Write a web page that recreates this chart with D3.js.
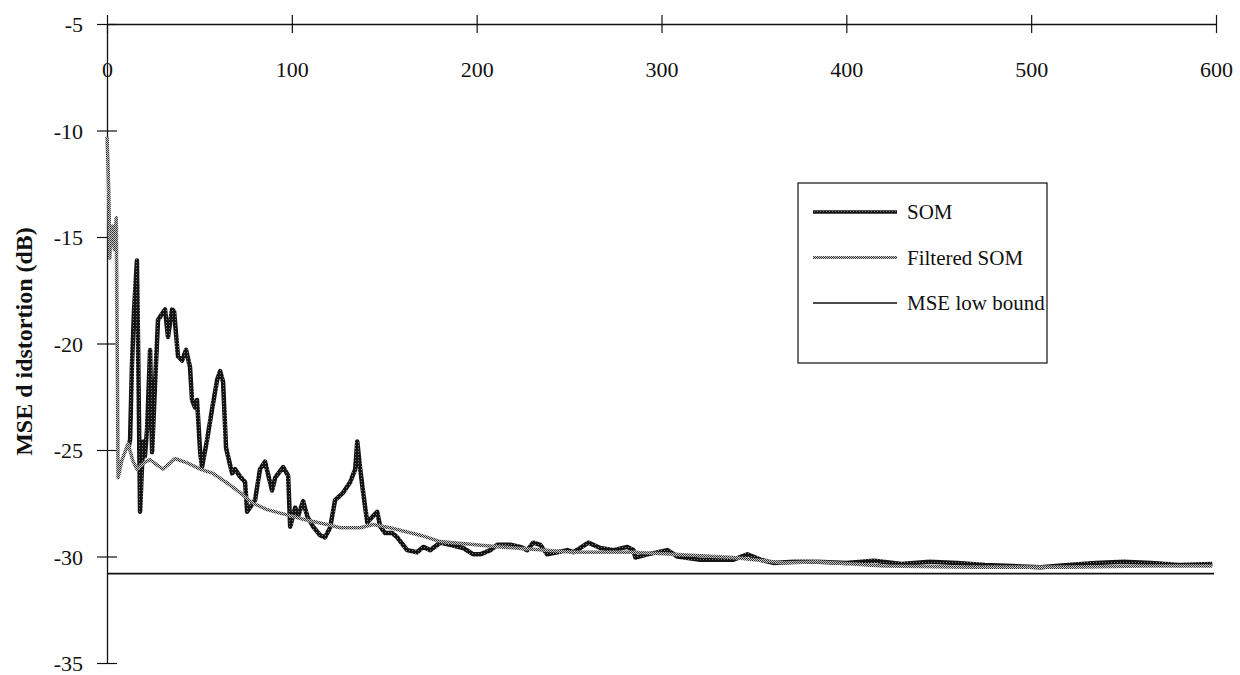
<!DOCTYPE html>
<html lang="en">
<head>
<meta charset="UTF-8">
<title>SOM distortion</title>
<script src="https://cdn.jsdelivr.net/npm/d3@7"></script>
<style>
    body { margin: 0; background: #fff; }
    text { font-family: 'Liberation Serif', 'Times New Roman', serif; fill: #111; }
</style>
</head>
<body>
<div id="chart"></div>
<script>
// iteration vs distortion in dB
const somX = [11.4, 12.5, 13.5, 14.6, 16.2, 16.8, 17.9, 19.5, 20.5, 21.7, 23.3, 24.4, 26.0, 27.6, 29.8, 31.4,
    33.0, 35.2, 36.3, 38.4, 40.6, 42.8, 44.9, 46.0, 47.6, 48.7, 50.4, 51.4, 54.1, 56.8, 59.6, 61.2, 62.8,
    64.4, 65.5, 67.7, 69.3, 72.0, 74.7, 75.8, 80.1, 82.8, 85.5, 89.3, 91.0, 95.3, 98.0, 99.1, 101.8, 103.4,
    106.1, 108.3, 111.5, 115.3, 118.0, 120.7, 123.4, 127.8, 131.6, 134.3, 135.4, 137.0, 138.6, 140.8, 144.0,
    146.2, 147.8, 150.5, 154.3, 157.0, 162.4, 167.8, 171.1, 174.9, 180.3, 185.7, 192.7, 198.2, 202.0, 207.4,
    211.2, 218.2, 223.6, 227.4, 230.6, 234.4, 238.2, 243.6, 249.0, 252.3, 256.1, 260.4, 266.9, 274.0, 281.5,
    284.8, 285.9, 292.4, 303.2, 308.6, 321.0, 338.9, 346.5, 353.5, 360.6, 371.4, 384.4, 400, 415, 430, 445,
    460, 475, 490, 505, 520, 535, 550, 565, 580, 598];
const somY = [-25.0, -24.5, -21.0, -18.5, -16.1, -20.0, -27.9, -24.6, -25.3, -24.0, -20.3, -25.1, -21.9, -18.9,
    -18.6, -18.4, -19.7, -18.4, -18.5, -20.6, -20.8, -20.3, -21.1, -22.65, -23.0, -22.65, -25.1, -25.8, -24.55,
    -23.1, -21.7, -21.3, -21.8, -24.9, -25.3, -26.1, -25.9, -26.25, -26.5, -27.9, -27.35, -25.9, -25.55, -26.9,
    -26.3, -25.8, -26.2, -28.6, -27.7, -28.1, -27.4, -28.1, -28.6, -29.0, -29.1, -28.65, -27.35, -27.0, -26.5,
    -25.9, -24.6, -25.9, -27.0, -28.4, -28.1, -27.9, -28.6, -28.9, -28.9, -29.1, -29.7, -29.8, -29.55, -29.7,
    -29.35, -29.45, -29.6, -29.9, -29.9, -29.7, -29.45, -29.45, -29.55, -29.7, -29.35, -29.45, -29.9, -29.8,
    -29.7, -29.8, -29.6, -29.35, -29.6, -29.7, -29.55, -29.7, -30.05, -29.9, -29.7, -30.0, -30.15, -30.15,
    -29.9, -30.15, -30.3, -30.25, -30.25, -30.3, -30.2, -30.35, -30.25, -30.3, -30.4, -30.45, -30.5, -30.4,
    -30.3, -30.25, -30.3, -30.4, -30.35];

const filtX = [0, 0.5, 1, 1.5, 2, 3, 4, 5, 5.5, 6, 8, 11.4, 14, 16.2, 20, 23.3, 27, 30.3, 36.8, 43.3, 50.4,
    57.4, 65, 72, 79, 86.6, 95.3, 108.3, 119.1, 126.2, 137, 144, 153.2, 169.5, 180.3, 212.8, 252.3, 284.8,
    306.4, 338.9, 366, 384.4, 420, 470, 520, 560, 598];
const filtY = [-10.3, -11.5, -13.0, -16.0, -15.2, -14.5, -15.6, -14.1, -20.0, -26.3, -25.5, -24.7, -25.5, -25.9,
    -25.6, -25.45, -25.7, -25.9, -25.4, -25.6, -25.9, -26.1, -26.55, -27.0, -27.5, -27.8, -28.0, -28.3, -28.5,
    -28.65, -28.65, -28.5, -28.65, -29.0, -29.3, -29.55, -29.8, -29.8, -29.9, -30.05, -30.3, -30.25, -30.45,
    -30.5, -30.5, -30.45, -30.45];

const lowBound = -30.8;
const lowX = [0, 599];

const xTicks = [0, 100, 200, 300, 400, 500, 600];
const yTicks = [-5, -10, -15, -20, -25, -30, -35];
const legendNames = ["SOM", "Filtered SOM", "MSE low bound"];

const width = 1240, height = 675;

const svg = d3.select("#chart").append("svg")
    .attr("width", width)
    .attr("height", height);

const defs = svg.append("defs");
// scanned hatch look for the two SOM curves
const hatchDark = defs.append("pattern")
    .attr("id", "hatchDark").attr("patternUnits", "userSpaceOnUse")
    .attr("width", 3).attr("height", 3);
hatchDark.append("rect").attr("width", 3).attr("height", 3).attr("fill", "#151515");
hatchDark.append("rect").attr("x", 1).attr("y", 1).attr("width", 1).attr("height", 1).attr("fill", "#7a7a7a");

const hatchLight = defs.append("pattern")
    .attr("id", "hatchLight").attr("patternUnits", "userSpaceOnUse")
    .attr("width", 2).attr("height", 2);
hatchLight.append("rect").attr("width", 2).attr("height", 2).attr("fill", "#c8c8c8");
hatchLight.append("rect").attr("width", 1).attr("height", 1).attr("fill", "#2a2a2a");
hatchLight.append("rect").attr("x", 1).attr("y", 1).attr("width", 1).attr("height", 1).attr("fill", "#4a4a4a");

const x = d3.scaleLinear().domain([0, 600]).range([107, 1216]);
const y = d3.scaleLinear().domain([-35, -5]).range([663, 24]);

// x axis sits on top at y = -5, labels hang below it
const xAxis = svg.append("g")
    .attr("transform", `translate(0,${y(-5)})`)
    .call(d3.axisBottom(x).tickValues(xTicks).tickSizeOuter(0).tickFormat(d => String(d)));
xAxis.select(".domain").attr("stroke", "#111").attr("stroke-width", 1.3);
xAxis.selectAll(".tick line").attr("y1", -9).attr("y2", 9).attr("stroke", "#111").attr("stroke-width", 1.2);
xAxis.selectAll(".tick text")
    .attr("y", 53).attr("dy", 0)
    .style("font-size", "22px")
    .style("font-family", "'Liberation Serif', serif")
    .attr("fill", "#111");

const yAxis = svg.append("g")
    .attr("transform", `translate(${x(0)},0)`)
    .call(d3.axisLeft(y).tickValues(yTicks).tickSizeOuter(0).tickFormat(d => String(d)));
yAxis.select(".domain").attr("stroke", "#111").attr("stroke-width", 1.3);
yAxis.selectAll(".tick line").attr("x1", -10).attr("x2", 10).attr("stroke", "#111").attr("stroke-width", 1.2);
yAxis.selectAll(".tick text")
    .attr("x", -24).attr("dy", "0.35em")
    .style("font-size", "22px")
    .style("font-family", "'Liberation Serif', serif")
    .attr("fill", "#111");

svg.append("text")
    .attr("transform", `translate(32,${(y(-15) + y(-25)) / 2 - 2}) rotate(-90)`)
    .attr("text-anchor", "middle")
    .style("font-size", "24px")
    .style("font-weight", "bold")
    .text("MSE d idstortion (dB)");

const line = d3.line().x(d => x(d[0])).y(d => y(d[1]));

const som = somX.map((v, i) => [v, somY[i]]);
const filt = filtX.map((v, i) => [v, filtY[i]]);
const low = lowX.map(v => [v, lowBound]);

svg.append("path").datum(som)
    .attr("d", line)
    .attr("fill", "none")
    .attr("stroke", "url(#hatchDark)")
    .attr("stroke-width", 4.5)
    .attr("stroke-linejoin", "round");

svg.append("path").datum(filt)
    .attr("d", line)
    .attr("fill", "none")
    .attr("stroke", "url(#hatchLight)")
    .attr("stroke-width", 3.5)
    .attr("stroke-linejoin", "round");

svg.append("path").datum(low)
    .attr("d", line)
    .attr("fill", "none")
    .attr("stroke", "#111")
    .attr("stroke-width", 1.7);

// legend box
const legend = svg.append("g").attr("transform", "translate(798,183)");
legend.append("rect")
    .attr("width", 249).attr("height", 180)
    .attr("fill", "#fff").attr("stroke", "#111").attr("stroke-width", 1.2);

const legendStroke = ["url(#hatchDark)", "url(#hatchLight)", "#111"];
const legendWidth = [3.5, 3, 1.7];
legendNames.forEach((name, i) => {
    const ly = 29 + i * 45.5;
    legend.append("line")
        .attr("x1", 15).attr("x2", 99)
        .attr("y1", ly).attr("y2", ly)
        .attr("stroke", legendStroke[i])
        .attr("stroke-width", legendWidth[i]);
    legend.append("text")
        .attr("x", 109).attr("y", ly)
        .attr("dy", "0.35em")
        .style("font-size", "21px")
        .text(name);
});
</script>
</body>
</html>
